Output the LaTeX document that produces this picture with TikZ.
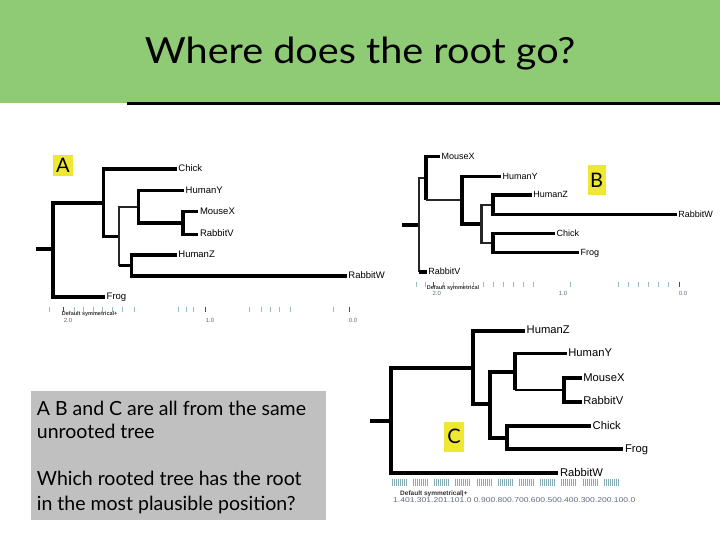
\documentclass[tikz,border=0pt]{standalone}
\usepackage{fontspec}
\setmainfont{Lato}
\newfontfamily\arialf{Liberation Sans}
\definecolor{bandgreen}{RGB}{143,202,117}
\definecolor{lblyellow}{RGB}{238,232,50}
\definecolor{boxgray}{RGB}{192,192,192}
\definecolor{tickteal}{RGB}{150,190,200}
\definecolor{numgray}{RGB}{95,105,125}
\begin{document}
\begin{tikzpicture}[x=1pt,y=-1pt,
  br/.style={line width=3.6pt, line join=miter},
  brc/.style={line width=4.2pt, line join=miter},
  thinbr/.style={line width=2.2pt, black!85, line join=miter},
  leaf/.style={font=\arialf\fontsize{9.5}{10}\selectfont, inner sep=1.5pt, anchor=west, text height=6.8pt, text depth=1.6pt},
  leafb/.style={leaf, font=\arialf\fontsize{9}{10}\selectfont},
  leafc/.style={leaf, font=\arialf\fontsize{11.2}{12}\selectfont, text height=8pt, text depth=1.9pt},
  lettertag/.style={fill=lblyellow, inner sep=0pt, font=\fontsize{20}{22}\selectfont},
  minortick/.style={tickteal, line width=0.7pt},
  majortick/.style={black!70, line width=0.8pt},
  scalelbl/.style={font=\arialf\fontsize{6}{7}\selectfont, numgray, inner sep=0pt},
  scaletitle/.style={font=\arialf\bfseries\fontsize{5.5}{6}\selectfont, black!80, inner sep=0pt, anchor=west},
  bodytext/.style={font=\fontsize{19.5}{22}\selectfont, anchor=base west, inner sep=0pt}]
\useasboundingbox (0,0) rectangle (720,540);
\fill[white] (0,0) rectangle (720,540);
% title band
\fill[bandgreen] (0,0) rectangle (720,103);
\fill[black] (127,101.7) rectangle (720,105);
\node[font=\fontsize{36}{40}\selectfont, anchor=base, inner sep=0pt] (title) at (360,64) {\scalebox{1.1}[1]{Where does the root go?}};

% ================= Tree A =================
\node[lettertag, minimum width=20.6pt, minimum height=21pt] (tagA) at (63,165.5) {A};
\coordinate (aS) at (36,249.2);
\coordinate (aR) at (53,249.2);
\coordinate (a1) at (103.5,203);
\coordinate (a2) at (119,236.5);
\coordinate (a3) at (138.3,206.7);
\coordinate (a4) at (183,223);
\coordinate (a5) at (131.5,265.5);
\node[leaf] (aChick) at (176.7,169.3) {Chick};
\node[leaf] (aHumanY) at (184,190.5) {HumanY};
\node[leaf] (aMouseX) at (198.3,211.7) {MouseX};
\node[leaf] (aRabbitV) at (198.3,234.3) {RabbitV};
\node[leaf] (aHumanZ) at (176.7,255) {HumanZ};
\node[leaf] (aRabbitW) at (346.7,276) {RabbitW};
\node[leaf] (aFrog) at (105,296.7) {Frog};
\draw[br] (aS) -- (aR);
\draw[br] (aR) |- (a1);
\draw[br] (aR) |- (aFrog.west);
\draw[br] (a1) |- (aChick.west);
\draw[br] (a1) |- (a2);
\draw[thinbr] (a2) |- (a3);
\draw[thinbr] (a2) -- (a2 |- a5);
\draw[br] (a2 |- a5) -- (a5);
\draw[br] (a3) |- (aHumanY.west);
\draw[br] (a3) |- (a4);
\draw[br] (a4) |- (aMouseX.west);
\draw[br] (a4) |- (aRabbitV.west);
\draw[br] (a5) |- (aHumanZ.west);
\draw[br] (a5) |- (aRabbitW.west);
% scale A
\foreach \x in {49.3,74.3,83.3,93.3,102.7,112.7,122.7,134,178.3,186.7,193.3,249.3,261.7,270,279.3,290,333.3}
  \draw[minortick] (\x,306.7) -- (\x,311.7);
\foreach \x in {63.3,205.7,349.3}
  \draw[majortick] (\x,306.7) -- (\x,311.7);
\node[scaletitle] (aDef) at (61.7,314.3) {Default symmetrical+};
\node[scalelbl] (a20) at (68,320.5) {2.0};
\node[scalelbl] (a10) at (210,320.5) {1.0};
\node[scalelbl] (a00) at (353,320.5) {0.0};

% ================= Tree B =================
\node[lettertag, minimum width=18pt, minimum height=30pt] (tagB) at (596.7,180) {B};
\coordinate (bS) at (402.3,225);
\coordinate (bR) at (419,225);
\coordinate (b1) at (425.7,178.3);
\coordinate (b2) at (461.7,200);
\coordinate (b3) at (481.5,224);
\coordinate (b4) at (493,205);
\coordinate (b5) at (493,243);
\node[leafb] (bMouseX) at (440,156.7) {MouseX};
\node[leafb] (bHumanY) at (501,176.5) {HumanY};
\node[leafb] (bHumanZ) at (531.7,195) {HumanZ};
\node[leafb] (bRabbitW) at (676.7,214.5) {RabbitW};
\node[leafb] (bChick) at (555,233.5) {Chick};
\node[leafb] (bFrog) at (579,252.5) {Frog};
\node[leafb] (bRabbitV) at (426.7,271.7) {RabbitV};
\draw[br] (bS) -- (bR);
\draw[thinbr] (bR) |- (b1);
\draw[thinbr] (bR) -- (bR |- bRabbitV.west);
\draw[br] (bR |- bRabbitV.west) -- (bRabbitV.west);
\draw[br] (b1) |- (bMouseX.west);
\draw[br] (b1) -- (b1 |- b2);
\draw[thinbr] (b1 |- b2) -- (b2);
\draw[br] (b2) |- (bHumanY.west);
\draw[br] (b2) |- (b3);
\draw[thinbr] (b3) |- (b4);
\draw[thinbr] (b3) |- (b5);
\draw[br] (b4) |- (bHumanZ.west);
\draw[br] (b4) |- (bRabbitW.west);
\draw[br] (b5) |- (bChick.west);
\draw[br] (b5) |- (bFrog.west);
% scale B
\foreach \x in {416.7,425,443.3,453.3,463.3,473.3,483.3,493.3,503.3,513.3,523.3,533.3,570,618,628,638,648,658,668}
  \draw[minortick] (\x,281.7) -- (\x,286.7);
\foreach \x in {433.3,679}
  \draw[majortick] (\x,281.7) -- (\x,286.7);
\node[scaletitle] (bDef) at (426.7,287.8) {Default symmetrical};
\node[scalelbl] (b20) at (436.7,293) {2.0};
\node[scalelbl] (b10) at (563,293) {1.0};
\node[scalelbl] (b00) at (683,293) {0.0};

% ================= Tree C =================
\node[lettertag, minimum width=20pt, minimum height=30pt] (tagC) at (454,436.7) {C};
\coordinate (cS) at (370,420.8);
\coordinate (cR) at (391,420.8);
\coordinate (c1) at (473.3,368.3);
\coordinate (c2) at (490,404);
\coordinate (c3) at (515,371.7);
\coordinate (c4) at (564.3,390);
\coordinate (c5) at (506.7,438);
\node[leafc] (cHumanZ) at (525,330.7) {HumanZ};
\node[leafc] (cHumanY) at (566.7,353.3) {HumanY};
\node[leafc] (cMouseX) at (581.7,378.3) {MouseX};
\node[leafc] (cRabbitV) at (581.7,401.7) {RabbitV};
\node[leafc] (cChick) at (591,426) {Chick};
\node[leafc] (cFrog) at (623.3,449.3) {Frog};
\node[leafc] (cRabbitW) at (558.3,473.3) {RabbitW};
\draw[brc] (cS) -- (cR);
\draw[brc] (cR) |- (c1);
\draw[brc] (cR) |- (cRabbitW.west);
\draw[brc] (c1) |- (cHumanZ.west);
\draw[brc] (c1) |- (c2);
\draw[brc] (c2) |- (c3);
\draw[brc] (c2) |- (c5);
\draw[br] (c3) |- (cHumanY.west);
\draw[br] (c3) -- (c3 |- c4);
\draw[line width=2.6pt] (c3 |- c4) -- (c4);
\draw[brc] (c4) |- (cMouseX.west);
\draw[brc] (c4) |- (cRabbitV.west);
\draw[brc] (c5) |- (cChick.west);
\draw[brc] (c5) |- (cFrog.west);
% scale C
\foreach \g in {0,...,10}
  \foreach \k in {0,...,7}
    \draw[tickteal!90!black, line width=0.6pt] ({392+\g*21.2+\k*2},478.5) -- ({392+\g*21.2+\k*2},485.5);
\node[scaletitle, font=\arialf\bfseries\fontsize{6.5}{7}\selectfont] (cDef) at (400,493.5) {Default symmetrical|+};
\node[scalelbl, anchor=west, font=\arialf\fontsize{7}{8}\selectfont] (cNums) at (393,500)
  {\scalebox{1.22}[1]{1.401.301.201.101.0 0.900.800.700.600.500.400.300.200.100.0}};

% ================= Text box =================
\fill[boxgray] (31,391) rectangle (326,520);
\node[bodytext] (t1) at (36.7,415) {A B and C are all from the same};
\node[bodytext] (t2) at (36.7,438.5) {unrooted tree};
\node[bodytext] (t3) at (36.7,485) {Which rooted tree has the root};
\node[bodytext] (t4) at (36.7,510) {in the most plausible position?};
\end{tikzpicture}
\end{document}
